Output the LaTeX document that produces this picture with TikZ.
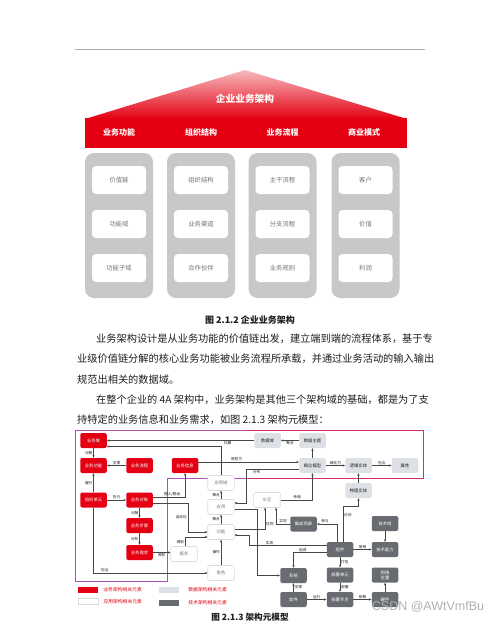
\documentclass[tikz,border=0pt]{standalone}
\usepackage{fontspec}
\setmainfont{Noto Sans CJK SC}
\newfontfamily\wmfont{Liberation Sans}
\usetikzlibrary{arrows.meta, positioning, calc}

\definecolor{bizred}{RGB}{228,0,18}
\definecolor{roofpink}{RGB}{247,186,190}
\definecolor{colgray}{RGB}{200,200,200}
\definecolor{datagray}{RGB}{221,225,229}
\definecolor{techgray}{RGB}{104,108,113}
\definecolor{linegray}{RGB}{70,70,70}
\definecolor{framepurple}{RGB}{172,82,182}
\definecolor{framered}{RGB}{212,48,102}
\definecolor{appborder}{RGB}{218,218,218}
\definecolor{textdark}{RGB}{30,30,30}
\definecolor{labelgray}{RGB}{115,115,115}

\begin{document}
\begin{tikzpicture}[x=1pt, y=-1pt,
  colbox/.style = {fill=colgray, rounded corners=9pt, minimum width=68pt, minimum height=145pt, inner sep=0pt},
  cellbox/.style = {fill=white, rounded corners=4pt, minimum width=54pt, minimum height=28pt, inner sep=0pt, font=\fontsize{6.3}{7}\selectfont, text=labelgray},
  headtext/.style = {text=white, font=\fontsize{8}{9}\selectfont\bfseries},
  para/.style = {anchor=west, inner sep=0pt, text=textdark, font=\fontsize{10.2}{12}\selectfont},
  elem/.style = {rounded corners=2pt, minimum width=26.5pt, minimum height=15pt, inner sep=0pt, align=center, font=\fontsize{4.3}{5}\selectfont},
  biz/.style = {elem, fill=bizred, text=white},
  app/.style = {elem, fill=white, draw=appborder, line width=0.6pt, text=labelgray},
  dat/.style = {elem, fill=datagray, text=textdark},
  tech/.style = {elem, fill=techgray, text=white},
  arrow/.style = {-{Stealth[length=2.6pt, width=2.2pt]}, line width=0.55pt, draw=linegray},
  elabel/.style = {font=\fontsize{3.7}{4}\selectfont, text=textdark, inner sep=0.8pt},
  legendbox/.style = {minimum width=20pt, minimum height=6.5pt, inner sep=0pt},
  legendtext/.style = {font=\fontsize{4.8}{5}\selectfont, text=bizred, inner sep=0pt}
]
\useasboundingbox (0,0) rectangle (500,623);
\clip (0,0) rectangle (500,623);
\fill[white] (0,0) rectangle (500,623);
\draw[line width=1.4pt, draw=gray!65] (75,49.5) -- (425,49.5);

\shade[top color=roofpink, bottom color=bizred] (85,119) -- (245,70) -- (407,119) -- cycle;
\fill[bizred] (85,118.5) rectangle (407,148);
\node[text=white, font=\fontsize{9.7}{10}\selectfont\bfseries] (roof_title) at (245,99) {企业业务架构};
\node[headtext] (head_func) at (119,132) {业务功能};
\node[headtext] (head_org) at (201,132) {组织结构};
\node[headtext] (head_process) at (282.5,132) {业务流程};
\node[headtext] (head_model) at (364,132) {商业模式};

\node[colbox] (col_func) at (119,225.5) {};
\node[colbox] (col_org) at (201,225.5) {};
\node[colbox] (col_process) at (282.5,225.5) {};
\node[colbox] (col_model) at (365.5,225.5) {};
\node[cellbox] (cell_chain) at (119,180) {价值链};
\node[cellbox] (cell_domain) at (119,224) {功能域};
\node[cellbox] (cell_subdomain) at (119,268) {功能子域};
\node[cellbox] (cell_orgstruct) at (201,180) {组织结构};
\node[cellbox] (cell_channel) at (201,224) {业务渠道};
\node[cellbox] (cell_partner) at (201,268) {合作伙伴};
\node[cellbox] (cell_main) at (282.5,180) {主干流程};
\node[cellbox] (cell_branch) at (282.5,224) {分支流程};
\node[cellbox] (cell_rule) at (282.5,268) {业务规则};
\node[cellbox] (cell_customer) at (365.5,180) {客户};
\node[cellbox] (cell_value) at (365.5,224) {价值};
\node[cellbox] (cell_profit) at (365.5,268) {利润};

\node[font=\fontsize{9}{10}\selectfont\bfseries, text=textdark] (caption_a) at (250,320) {图 2.1.2 企业业务架构};
\node[para] (line_a) at (96,339) {业务架构设计是从业务功能的价值链出发，建立端到端的流程体系，基于专};
\node[para] (line_b) at (77,359) {业级价值链分解的核心业务功能被业务流程所承载，并通过业务活动的输入输出};
\node[para] (line_c) at (77,379.5) {规范出相关的数据域。};
\node[para] (line_d) at (96,400) {在整个企业的 4A 架构中，业务架构是其他三个架构域的基础，都是为了支};
\node[para] (line_e) at (77,420) {持特定的业务信息和业务需求，如图 2.1.3 架构元模型：};

\draw[framepurple, line width=0.8pt] (75,430) -- (423,430) -- (423,478) -- (167,478) -- (167,581) -- (75,581) -- cycle;
\draw[framered, line width=0.8pt] (246,430) -- (423,430) -- (423,478) -- (246,478);

\node[biz] (biz_domain) at (93.5,440.5) {业务域};
\node[biz] (biz_func) at (93.5,465.5) {业务功能};
\node[biz] (biz_process) at (139.5,465.5) {业务流程};
\node[biz] (biz_info) at (185,465.5) {业务信息};
\node[biz] (org_unit) at (93.5,500) {组织单元};
\node[biz] (biz_object) at (139.5,500) {业务对象};
\node[biz] (biz_step) at (139.5,525.5) {业务步骤};
\node[biz] (biz_req) at (139.5,552.5) {业务需求};
\node[app] (app_domain) at (221,483) {应用域};
\node[app] (app) at (221,507) {应用};
\node[app] (app_func) at (221,532) {功能};
\node[app] (role) at (221,573) {角色};
\node[app] (service) at (184,554) {服务};
\node[app] (interaction) at (267,500) {交互};
\node[dat] (data_domain) at (267.5,440.5) {数据域};
\node[dat] (data_subject) at (312.5,440.5) {数据主题};
\node[dat] (concept_model) at (312.5,465.5) {概念模型};
\node[dat] (logic_entity) at (358.5,465.5) {逻辑实体};
\node[dat] (attribute) at (405,465.5) {属性};
\node[dat] (phys_entity) at (358.5,490.5) {物理实体};
\node[tech] (integ_scene) at (303.5,524) {集成场景};
\node[tech] (tech_domain) at (385,523.5) {技术域};
\node[tech] (component) at (340,549.5) {组件};
\node[tech] (tech_cap) at (385,549.5) {技术能力};
\node[tech] (system) at (293.5,575.5) {系统};
\node[tech] (deploy_unit) at (340,575) {部署单元};
\node[tech] (net_loc) at (385,575) {网络\\位置};
\node[tech] (software) at (293.5,599.5) {软件};
\node[tech] (deploy_node) at (340,599.5) {部署节点};
\node[tech] (hardware) at (385,599.5) {硬件};

\draw[arrow] (data_domain) -- node[elabel, below, pos=0.18] {归属} (biz_domain);
\draw[arrow] (app_domain.north) |- ([yshift=-6pt]biz_domain.east);
\draw[arrow] (data_subject) -- node[elabel, below] {聚合} (data_domain);
\draw[arrow] (concept_model) -- (data_subject);
\draw[arrow] (concept_model) -- node[elabel, above] {细化为} (logic_entity);
\draw[arrow] (logic_entity) -- node[elabel, above] {包含} (attribute);
\draw[arrow] (phys_entity) -- (logic_entity);
\draw[arrow] ([yshift=3.5pt]biz_info.east) -- node[elabel, above, pos=0.38] {映射为} ([yshift=3.5pt]concept_model.west);
\draw[arrow] ([yshift=-3.5pt]concept_model.west) -- node[elabel, below, pos=0.8] {分布} ++(-53,0) |- ([yshift=4pt]app.east);
\draw[arrow] ([yshift=-2pt]app.east) -- ++(23,0) |- (system.west);
\draw[arrow] (interaction.east) -| node[elabel, above, pos=0.26] {传递} (concept_model.south);
\draw[arrow] (integ_scene.west) -| node[elabel, above, pos=0.25] {实现} ([xshift=9pt]interaction.south);
\draw[arrow] ([yshift=3pt]app_func.east) -| node[elabel, right, pos=0.62] {协同} ([xshift=-2pt]interaction.south);
\draw[arrow] ([yshift=4pt]component.west) -- node[elabel, above, pos=0.74] {实现} ++(-77,0) |- ([yshift=-3pt]app_func.east);
\draw[arrow] ([yshift=-3pt]component.west) -| node[elabel, above, pos=0.36] {组成} (system.north);
\draw[arrow] ([xshift=-3pt]component.north) |- node[elabel, above, pos=0.8] {参与} (integ_scene.east);
\draw[arrow] ([xshift=3pt]component.north) |- node[elabel, right, pos=0.37] {访问} ([yshift=-8pt]phys_entity.south) -- (phys_entity.south);
\draw[arrow] (component) -- node[elabel, above] {使用} (tech_cap);
\draw[arrow] (tech_domain) -- (tech_cap);
\draw[arrow] (component) -- node[elabel, right] {打包} (deploy_unit);
\draw[arrow] (deploy_unit) -- node[elabel, right] {部署} (deploy_node);
\draw[arrow] (software) -- node[elabel, right] {支撑} (system);
\draw[arrow] (software) -- node[elabel, above] {运行} (deploy_node);
\draw[arrow] (deploy_node) -- node[elabel, above] {依赖} (hardware);
\draw[arrow] (hardware) -- (net_loc);

\draw[arrow] (biz_domain) -- node[elabel, left] {分解} (biz_func);
\draw[arrow] (biz_process) -- node[elabel, above] {支撑} (biz_func);
\draw[arrow] (org_unit) -- node[elabel, left] {履行} (biz_func);
\draw[arrow] (org_unit) -- node[elabel, above] {执行} (biz_object);
\draw[arrow] ([yshift=3pt]biz_object.east) -| node[elabel, above, pos=0.3] {输入/输出} (biz_info.south);
\draw[arrow] ([yshift=-3pt]biz_object.east) -- ++(35,0) |- node[elabel, left, pos=0.25] {自动化} (app_func.west);
\draw[arrow] (biz_object) -- node[elabel, left] {分解} (biz_step);
\draw[arrow] (biz_step) -- node[elabel, left] {分析} (biz_req);
\draw[arrow] (biz_req.east) -- node[elabel, below] {映射} (biz_req.east -| service.west);
\draw[arrow] ([xshift=1pt]service.north) |- node[elabel, left, pos=0.2] {调用} ([yshift=-5pt]app_func.west);
\draw[arrow] (org_unit.south) |- node[elabel, above, pos=0.55] {包含} (role.west);
\draw[arrow] (role) -- node[elabel, left] {操作} (app_func);
\draw[arrow] (app_func) -- node[elabel, left] {聚合} (app);
\draw[arrow] (app) -- node[elabel, left] {聚合} (app_domain);

\node[legendbox, fill=bizred] (legend_biz) at (88,590) {};
\node[legendtext, right=5pt of legend_biz] (legend_biz_text) {业务架构相关元素};
\node[legendbox, fill=white, draw=appborder, line width=0.6pt] (legend_app) at (88,601.5) {};
\node[legendtext, right=5pt of legend_app] (legend_app_text) {应用架构相关元素};
\node[legendbox, fill=datagray] (legend_data) at (168.5,590) {};
\node[legendtext, right=9.5pt of legend_data] (legend_data_text) {数据架构相关元素};
\node[legendbox, fill=techgray] (legend_tech) at (168.5,603) {};
\node[legendtext, right=9.5pt of legend_tech] (legend_tech_text) {技术架构相关元素};

\node[font=\fontsize{8.6}{9}\selectfont\bfseries, text=textdark] (caption_b) at (250,617.5) {图 2.1.3 架构元模型};
\node[font=\wmfont\fontsize{12.5}{13}\selectfont, text=gray!60] (watermark) at (428,606.5) {CSDN @AWtVmfBu};
\end{tikzpicture}
\end{document}
